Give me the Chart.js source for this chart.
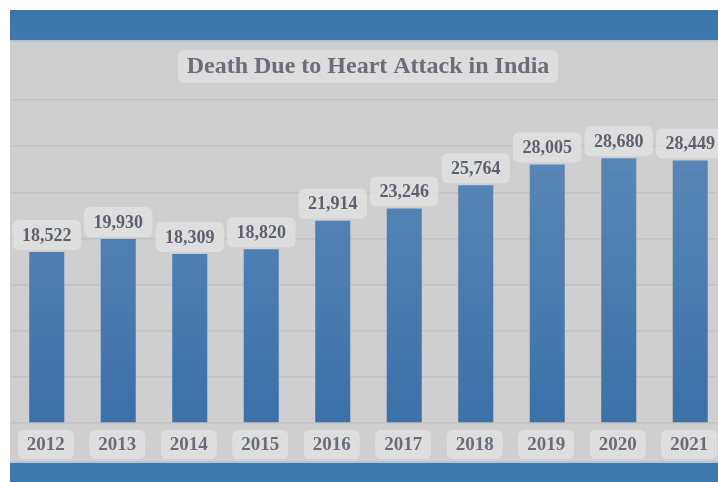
<!DOCTYPE html>
<html>
<head>
<meta charset="utf-8">
<script src="https://cdn.jsdelivr.net/npm/chart.js@4"></script>
<style>
  html, body { margin: 0; padding: 0; background: #fff; overflow: hidden; }
  #frame { position: absolute; left: 10px; top: 10px; width: 720px; height: 472px; background: #cfcfcf; }
  #topband { position: absolute; left: 0; top: 0; width: 100%; height: 30px;
    background: linear-gradient(#3a74aa, #4079ad); border-bottom: 2px solid #b9c4cf; }
  #botband { position: absolute; left: 0; bottom: 0; width: 100%; height: 19px;
    background: #3e78ad; border-top: 2px solid #b9c4cf; }
  #wrap { position: absolute; left: 0; top: 32px; width: 720px; height: 419px; }
</style>
</head>
<body>
<div id="frame">
  <div id="topband"></div>
  <div id="wrap"><canvas id="bars"></canvas></div>
  <div id="botband"></div>
</div>
<script>
const title = 'Death Due to Heart Attack in India'
const years = ['2012', '2013', '2014', '2015', '2016', '2017', '2018', '2019', '2020', '2021']
const deaths = [18522, 19930, 18309, 18820, 21914, 23246, 25764, 28005, 28680, 28449]
const yTicks = [0, 5000, 10000, 15000, 20000, 25000, 30000, 35000]

const serif = '"Liberation Serif", "Times New Roman", serif'

function roundBox(ctx, x, y, w, h, r, fill) {
    ctx.beginPath()
    ctx.roundRect(x, y, w, h, r)
    ctx.fillStyle = fill
    ctx.fill()
}

// value boxes above bars, year boxes below, and the boxed title
const labelsPlugin = {
    id: 'labels',
    afterDatasetsDraw(chart) {
        const ctx = chart.ctx
        const meta = chart.getDatasetMeta(0)
        const xScale = chart.scales.x
        const area = chart.chartArea
        ctx.save()
        ctx.textAlign = 'center'
        ctx.textBaseline = 'middle'

        ctx.font = 'bold 18px ' + serif
        meta.data.forEach((bar, i) => {
            const txt = deaths[i].toLocaleString('en-US')
            const w = ctx.measureText(txt).width + 19
            roundBox(ctx, bar.x - w / 2, bar.y - 32, w, 30, 6, 'rgba(225,225,225,0.85)')
            ctx.fillStyle = '#5d616b'
            ctx.fillText(txt, bar.x, bar.y - 16)
        })

        ctx.font = 'bold 19px ' + serif
        years.forEach((yr, i) => {
            const x = xScale.getPixelForTick(i) - 1
            roundBox(ctx, x - 28, area.bottom + 7, 56, 29, 6, 'rgba(225,225,225,0.85)')
            ctx.fillStyle = '#6a6d76'
            ctx.fillText(yr, x, area.bottom + 22)
        })

        ctx.font = 'bold 24px ' + serif
        const tw = ctx.measureText(title).width
        const cx = 358
        roundBox(ctx, cx - tw / 2 - 9, 8, tw + 18, 33, 7, 'rgba(222,222,222,0.9)')
        ctx.fillStyle = '#6b6e78'
        ctx.fillText(title, cx, 25)
        ctx.restore()
    }
}

const ctx = document.getElementById('bars')
new Chart(ctx, {
    type: 'bar',
    data: {
        labels: years,
        datasets: [{
            data: deaths,
            backgroundColor: (c) => {
                const area = c.chart.chartArea
                if (!area) return '#4a7db3'
                const g = c.chart.ctx.createLinearGradient(0, area.top, 0, area.bottom)
                g.addColorStop(0, '#5f8bb9')
                g.addColorStop(1, '#3a71a9')
                return g
            },
            borderWidth: 0,
            categoryPercentage: 1,
            barPercentage: 0.49
        }]
    },
    options: {
        responsive: true,
        maintainAspectRatio: false,
        animation: false,
        layout: { padding: { left: 1, right: 4, top: 58, bottom: 38 } },
        plugins: {
            legend: { display: false },
            tooltip: { enabled: false }
        },
        scales: {
            x: {
                grid: { display: false, drawTicks: false },
                border: { display: false },
                ticks: { display: false }
            },
            y: {
                min: yTicks[0],
                max: yTicks[yTicks.length - 1],
                afterBuildTicks: (axis) => { axis.ticks = yTicks.map(v => ({ value: v })) },
                grid: { color: '#c2c2c2', lineWidth: 1.5, drawTicks: false },
                border: { display: false },
                ticks: { display: false }
            }
        }
    },
    plugins: [labelsPlugin]
})
</script>
</body>
</html>
